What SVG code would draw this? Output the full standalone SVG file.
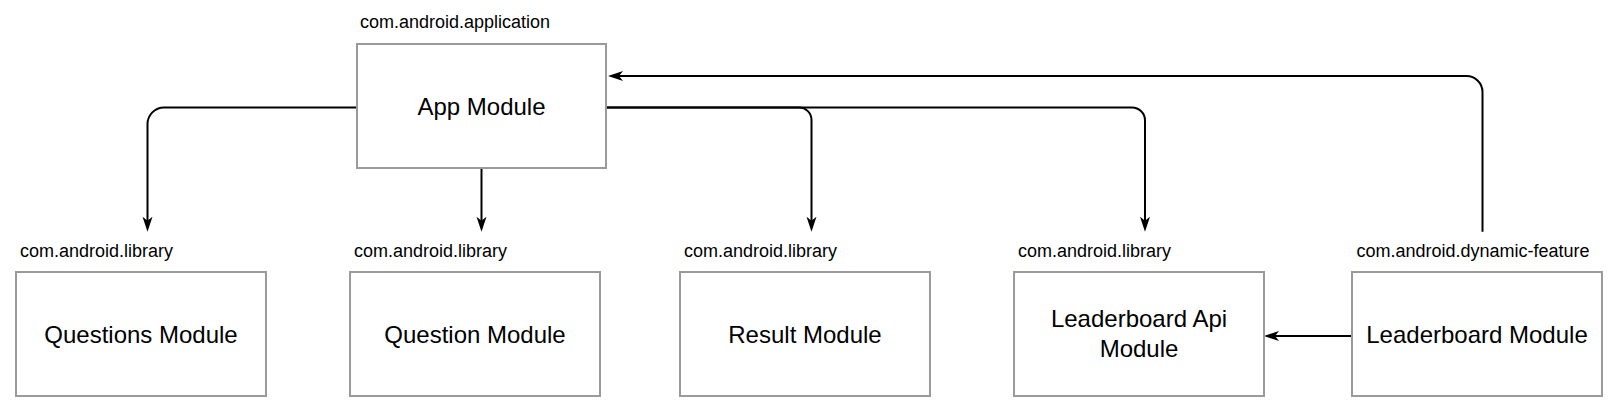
<svg xmlns="http://www.w3.org/2000/svg" width="1616" height="410" viewBox="0 0 1616 410">
<style>
.box{fill:#fff;stroke:#9a9a9a;stroke-width:2}
.main{font-family:"Liberation Sans",Arial,sans-serif;font-size:24px;fill:#000;text-anchor:middle}
.tag{font-family:"Liberation Sans",Arial,sans-serif;font-size:18px;fill:#000}
.edge{fill:none;stroke:#000;stroke-width:2}
</style>
<defs>
<marker id="arr" markerUnits="userSpaceOnUse" markerWidth="16" markerHeight="12" viewBox="0 0 16 12" refX="10" refY="6" orient="auto">
<path d="M0,1 L15,6 L0,11 L4,6 Z" fill="#000"/>
</marker>
</defs>
<rect width="1616" height="410" fill="#fff"/>
<g id="connectors">
<path class="edge" d="M357,107.5 H164 A16.5,16.5 0 0 0 147.5,124 V226.7" marker-end="url(#arr)"/>
<path class="edge" d="M481.5,168 V226.7" marker-end="url(#arr)"/>
<path class="edge" d="M606,107.5 H799 A12.5,12.5 0 0 1 811.5,120 V226.7" marker-end="url(#arr)"/>
<path class="edge" d="M606,107.5 H1132 A13,13 0 0 1 1145,120.5 V226.7" marker-end="url(#arr)"/>
<path class="edge" d="M1482.5,231.7 V92 A16,16 0 0 0 1466.5,76 H613" marker-end="url(#arr)"/>
<path class="edge" d="M1352,336 H1269" marker-end="url(#arr)"/>
</g>
<g id="app">
<text class="tag" x="360" y="28">com.android.application</text>
<rect class="box" x="357" y="44" width="249" height="124"/>
<text class="main" x="481.5" y="114.5">App Module</text>
</g>
<g id="questions">
<text class="tag" x="20" y="256.5">com.android.library</text>
<rect class="box" x="16" y="272" width="250" height="124"/>
<text class="main" x="141" y="342.5">Questions Module</text>
</g>
<g id="question">
<text class="tag" x="354" y="256.5">com.android.library</text>
<rect class="box" x="350" y="272" width="250" height="124"/>
<text class="main" x="475" y="342.5">Question Module</text>
</g>
<g id="result">
<text class="tag" x="684" y="256.5">com.android.library</text>
<rect class="box" x="680" y="272" width="250" height="124"/>
<text class="main" x="805" y="342.5">Result Module</text>
</g>
<g id="leaderboard-api">
<text class="tag" x="1018" y="256.5">com.android.library</text>
<rect class="box" x="1014" y="272" width="250" height="124"/>
<text class="main" x="1139" y="326.7">Leaderboard Api</text>
<text class="main" x="1139" y="356.7">Module</text>
</g>
<g id="leaderboard">
<text class="tag" x="1356.5" y="256.5">com.android.dynamic-feature</text>
<rect class="box" x="1352" y="272" width="250" height="124"/>
<text class="main" x="1477" y="342.5">Leaderboard Module</text>
</g>
</svg>
